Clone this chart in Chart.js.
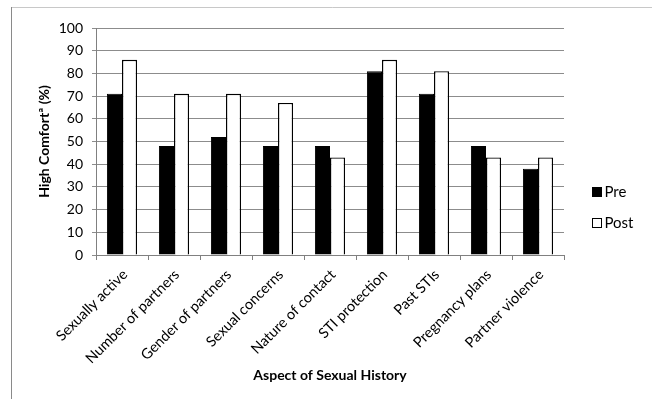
<!DOCTYPE html>
<html>
<head>
<meta charset="utf-8">
<style>
  html, body { margin: 0; padding: 0; background: #fff; }
  #wrap { width: 652px; height: 399px; }
</style>
<script src="https://cdn.jsdelivr.net/npm/chart.js@4/dist/chart.umd.min.js"></script>
</head>
<body>
<div id="wrap"><canvas id="c" width="652" height="399"></canvas></div>
<script>
// Aspects of sexual history asked about
const categories = [
  'Sexually active', 'Number of partners', 'Gender of partners', 'Sexual concerns',
  'Nature of contact', 'STI protection', 'Past STIs', 'Pregnancy plans', 'Partner violence'
];
// Share of participants reporting high comfort (%)
const preValues  = [71, 48, 52, 48, 48, 81, 71, 48, 38];
const postValues = [86, 71, 71, 67, 43, 86, 81, 43, 43];
const seriesNames = ['Pre', 'Post'];
const yTicks = [0, 10, 20, 30, 40, 50, 60, 70, 80, 90, 100];

const FONT = 'Lato, "Open Sans", sans-serif';

// Thin frame around the figure
const framePlugin = {
  id: 'frame',
  beforeDraw(chart) {
    const ctx = chart.ctx;
    ctx.save();
    ctx.fillStyle = '#fff';
    ctx.fillRect(0, 0, chart.width, chart.height);
    ctx.strokeStyle = '#c8c8c8';
    ctx.lineWidth = 1;
    ctx.beginPath();
    ctx.moveTo(11.5, 7.5);
    ctx.lineTo(660, 7.5);
    ctx.stroke();
    ctx.strokeStyle = '#8a8a8a';
    ctx.beginPath();
    ctx.moveTo(11.5, 400);
    ctx.lineTo(11.5, 7);
    ctx.stroke();
    ctx.restore();
  }
};

// Legend drawn to the right of the plot, square swatch + label
const sideLegend = {
  id: 'sideLegend',
  afterDraw(chart) {
    const ctx = chart.ctx;
    const x0 = chart.chartArea.right + 28.5;
    const yCenter = (chart.chartArea.top + chart.chartArea.bottom) / 2 + 66;
    const gap = 31;
    ctx.save();
    ctx.font = '15px ' + FONT;
    ctx.textBaseline = 'middle';
    ctx.textAlign = 'left';
    chart.data.datasets.forEach((ds, i) => {
      const y = yCenter + (i - 0.5) * gap;
      ctx.fillStyle = ds.backgroundColor;
      ctx.fillRect(x0, y - 4.5, 9, 9);
      ctx.strokeStyle = '#000';
      ctx.lineWidth = 1;
      ctx.strokeRect(x0, y - 4.5, 9, 9);
      ctx.fillStyle = '#000';
      ctx.fillText(ds.label, x0 + 12, y);
    });
    ctx.restore();
  }
};

new Chart(document.getElementById('c'), {
  type: 'bar',
  data: {
    labels: categories,
    datasets: [
      { label: seriesNames[0], data: preValues, backgroundColor: '#000000', borderColor: '#000000', borderWidth: 1 },
      { label: seriesNames[1], data: postValues, backgroundColor: '#ffffff', borderColor: '#000000', borderWidth: 1.4 }
    ]
  },
  options: {
    responsive: false,
    animation: false,
    devicePixelRatio: 1,
    layout: { padding: { left: 0, top: 28, right: 88, bottom: 0 } },
    datasets: { bar: { categoryPercentage: 0.58, barPercentage: 1.0 } },
    plugins: {
      legend: { display: false },
      tooltip: { enabled: false }
    },
    scales: {
      x: {
        afterFit(scale) { scale.height = 144; },
        grid: { display: true, drawOnChartArea: false, drawTicks: true, tickLength: 5, offset: true, color: '#808080' },
        border: { color: '#808080', width: 1 },
        ticks: {
          autoSkip: false, maxRotation: 45, minRotation: 45, padding: 6, labelOffset: 3,
          color: '#000', font: { family: FONT, size: 14.5 }
        },
        title: {
          display: true, text: 'Aspect of Sexual History', color: '#000',
          font: { family: FONT, size: 14, weight: 'bold' },
          padding: { top: 0, bottom: 15 }
        }
      },
      y: {
        min: 0, max: 100,
        afterFit(scale) { scale.width = 96; },
        afterBuildTicks(scale) { scale.ticks = yTicks.map(v => ({ value: v })); },
        grid: { color: '#8c8c8c', lineWidth: 1, tickLength: 4, drawTicks: true },
        border: { color: '#808080', width: 1 },
        ticks: { padding: 9, color: '#000', font: { family: FONT, size: 14 } },
        title: {
          display: true, text: 'High Comfortª (%)', color: '#000',
          font: { family: FONT, size: 14, weight: 'bold' },
          padding: { top: 36, bottom: 0 }
        }
      }
    }
  },
  plugins: [framePlugin, sideLegend]
});
</script>
</body>
</html>
